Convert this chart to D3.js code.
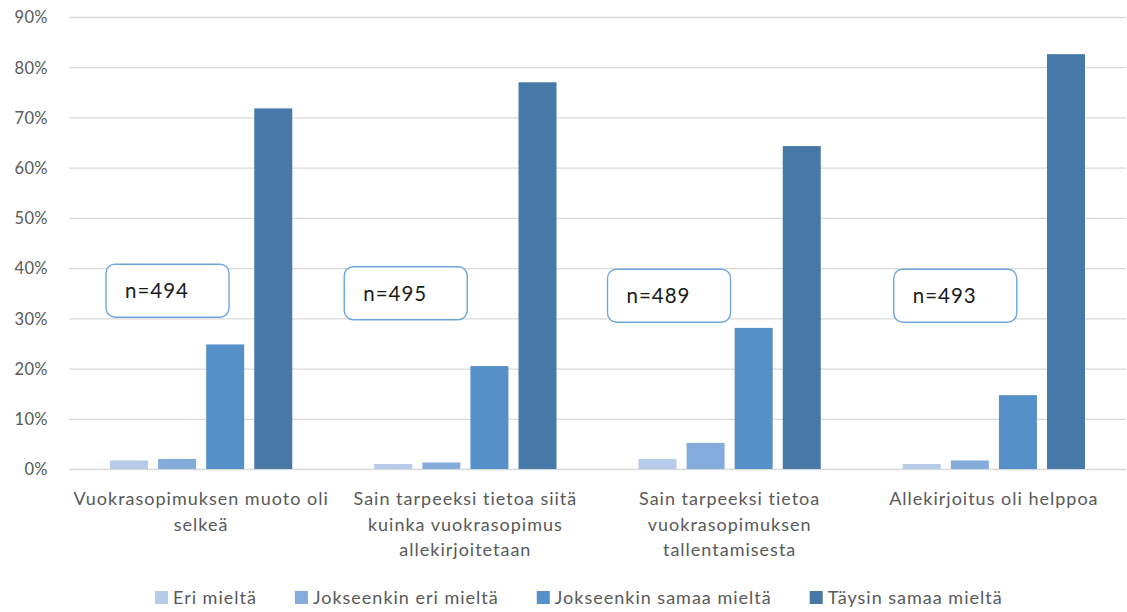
<!DOCTYPE html>
<html>
<head>
<meta charset="utf-8">
<script src="https://cdn.jsdelivr.net/npm/d3@7"></script>
<style>
  html, body { margin: 0; padding: 0; background: #fff; }
  svg text { font-family: Lato, "Open Sans", sans-serif; }
</style>
</head>
<body>
<svg id="chart" width="1127" height="612"></svg>
<script>
// Survey statements (x categories), answer options (series) and shares of respondents
const categories = [
  ["Vuokrasopimuksen muoto oli", "selkeä"],
  ["Sain tarpeeksi tietoa siitä", "kuinka vuokrasopimus", "allekirjoitetaan"],
  ["Sain tarpeeksi tietoa", "vuokrasopimuksen", "tallentamisesta"],
  ["Allekirjoitus oli helppoa"]
];
const seriesNames = ["Eri mieltä", "Jokseenkin eri mieltä", "Jokseenkin samaa mieltä", "Täysin samaa mieltä"];
const eriMielta = [0.017, 0.010, 0.020, 0.010];
const jokseenkinEri = [0.020, 0.013, 0.052, 0.017];
const jokseenkinSamaa = [0.248, 0.205, 0.281, 0.147];
const taysinSamaa = [0.718, 0.770, 0.643, 0.826];
const sampleSizes = ["n=494", "n=495", "n=489", "n=493"];
const yTicks = [0, 0.1, 0.2, 0.3, 0.4, 0.5, 0.6, 0.7, 0.8, 0.9];

const seriesValues = [eriMielta, jokseenkinEri, jokseenkinSamaa, taysinSamaa];
const colors = ["#b5cbe8", "#83acdc", "#5591c8", "#4678a8"];

const svg = d3.select("#chart");
const margin = { left: 69, right: 1, top: 17, bottom: 143 };
const W = 1127, H = 612;
const plotW = W - margin.left - margin.right;
const plotH = H - margin.top - margin.bottom;

const g = svg.append("g").attr("transform", `translate(${margin.left},${margin.top})`);

const x0 = d3.scaleBand().domain(d3.range(categories.length)).range([0, plotW]).paddingInner(0).paddingOuter(0);
const x1 = d3.scaleBand().domain(d3.range(seriesNames.length))
  .range([41, x0.bandwidth() - 41]).paddingInner(0.21).paddingOuter(0);
const y = d3.scaleLinear().domain([0, 0.9]).range([plotH, 0]);

// gridlines and percentage ticks
const yAxis = d3.axisLeft(y).tickValues(yTicks).tickFormat(d3.format(".0%")).tickSize(-plotW).tickPadding(21);
const ya = g.append("g").call(yAxis);
ya.select(".domain").remove();
ya.selectAll(".tick line").attr("stroke", "#d9d9d9").attr("stroke-width", 1.3);
ya.selectAll(".tick text").attr("fill", "#595959").style("font-size", "16.5px")
  .style("letter-spacing", "0.4px").attr("dy", "0.35em");

// bars
const groups = g.selectAll(".grp").data(categories).join("g")
  .attr("transform", (d, i) => `translate(${x0(i)},0)`);
groups.selectAll("rect").data((d, i) => seriesValues.map((s, k) => ({ k, v: s[i] }))).join("rect")
  .attr("x", d => x1(d.k))
  .attr("width", x1.bandwidth())
  .attr("y", d => y(d.v))
  .attr("height", d => y(0) - y(d.v))
  .attr("fill", d => colors[d.k]);

// category labels
const labels = g.append("g").attr("transform", `translate(0,${plotH})`);
categories.forEach((lines, i) => {
  const t = labels.append("text")
    .attr("x", x0(i) + x0.bandwidth() / 2)
    .attr("y", 36)
    .attr("text-anchor", "middle")
    .attr("fill", "#595959")
    .style("font-size", "18px")
    .style("letter-spacing", "1px");
  lines.forEach((ln, j) => t.append("tspan").attr("x", x0(i) + x0.bandwidth() / 2).attr("dy", j === 0 ? 0 : 25.5).text(ln));
});

// sample-size callouts: left offset within the group (px) and vertical centre (share)
const boxLeft = [37, 11, 10, 32];
const boxMid = [0.355, 0.35, 0.345, 0.345];
sampleSizes.forEach((txt, i) => {
  const bx = x0(i) + boxLeft[i];
  const by = y(boxMid[i]) - 26.5;
  g.append("rect").attr("x", bx).attr("y", by).attr("width", 123).attr("height", 53)
    .attr("rx", 9).attr("fill", "#fff").attr("stroke", "#6fa6dc").attr("stroke-width", 1.4);
  g.append("text").attr("x", bx + 19).attr("y", by + 27).attr("dy", "0.35em")
    .attr("fill", "#1a1a1a").style("font-size", "20.5px").style("letter-spacing", "1px").text(txt);
});

// legend
const legend = svg.append("g").attr("transform", `translate(155,598)`);
const items = legend.selectAll("g").data(seriesNames).join("g");
items.append("rect").attr("width", 13).attr("height", 13).attr("y", -7).attr("fill", (d, i) => colors[i]);
items.append("text").attr("x", 18).attr("dy", "0.35em").attr("fill", "#595959")
  .style("font-size", "18px").style("letter-spacing", "1px").text(d => d);
let cx = 0;
const gap = 38;
items.each(function () {
  const w = this.getBBox().width;
  d3.select(this).attr("transform", `translate(${cx},0)`);
  cx += w + gap;
});
</script>
</body>
</html>
